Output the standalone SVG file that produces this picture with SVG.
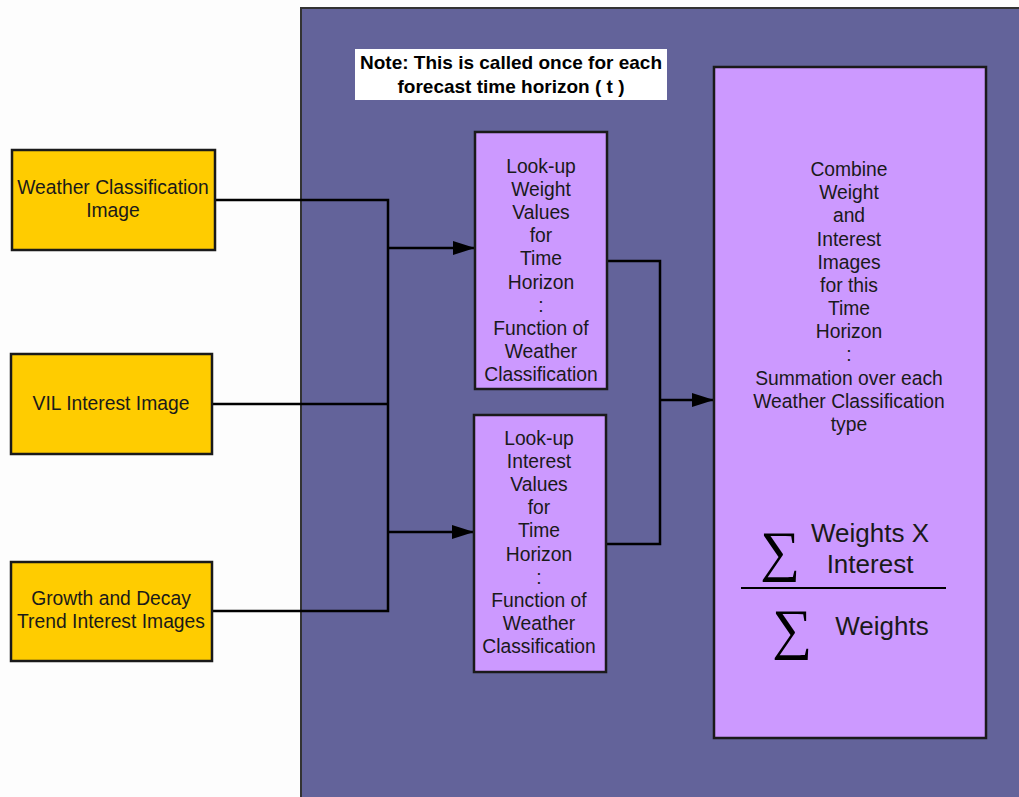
<svg xmlns="http://www.w3.org/2000/svg" width="1019" height="797" viewBox="0 0 1019 797">
  <style>
    .lbl { font-family: "Liberation Sans", Arial, sans-serif; font-size: 19.3px; fill: #1a1a1a; text-anchor: middle; }
    .note { font-family: "Liberation Sans", Arial, sans-serif; font-size: 19px; font-weight: bold; fill: #000; text-anchor: middle; }
    .input { fill: #ffcc00; stroke: #1a1a1a; stroke-width: 2.5; }
    .proc { fill: #cc99ff; stroke: #1a1a1a; stroke-width: 2.5; }
    .wire { fill: none; stroke: #000; stroke-width: 2.5; }
    .sigma { font-family: "Liberation Serif", "Times New Roman", serif; font-size: 56px; fill: #000; text-anchor: middle; }
    .frac { font-family: "Liberation Sans", Arial, sans-serif; font-size: 26px; fill: #1a1a1a; text-anchor: middle; }
  </style>
  <defs>
    <marker id="arrow" markerWidth="22" markerHeight="14" refX="22" refY="7" orient="auto" markerUnits="userSpaceOnUse" viewBox="0 0 22 14">
      <path d="M0,0 L22,7 L0,14 Z" fill="#000"/>
    </marker>
  </defs>

  <rect x="0" y="0" width="1019" height="797" fill="#fdfdfd"/>

  <!-- process region -->
  <g id="panel">
    <rect x="301" y="8" width="730" height="800" fill="#63639a" stroke="#333" stroke-width="2"/>
  </g>

  <g id="note">
    <rect x="355" y="49" width="312" height="51" fill="#fff"/>
    <text class="note" x="511" y="69">Note: This is called once for each</text>
    <text class="note" x="511" y="93">forecast time horizon ( t )</text>
  </g>

  <!-- connectors -->
  <g id="connectors">
    <path class="wire" d="M215,200 H388 V611 H212"/>
    <path class="wire" d="M212,404 H388"/>
    <path class="wire" d="M388,248 H475" marker-end="url(#arrow)"/>
    <path class="wire" d="M388,532 H474" marker-end="url(#arrow)"/>
    <path class="wire" d="M607,261 H660 V544 H606"/>
    <path class="wire" d="M660,400 H714" marker-end="url(#arrow)"/>
  </g>

  <g id="weather-classification">
    <rect class="input" x="12" y="150" width="203" height="100"/>
    <text class="lbl" x="113" y="194">Weather Classification</text>
    <text class="lbl" x="113" y="217">Image</text>
  </g>

  <g id="vil-interest">
    <rect class="input" x="11" y="354" width="201" height="100"/>
    <text class="lbl" x="111" y="410">VIL Interest Image</text>
  </g>

  <g id="growth-decay">
    <rect class="input" x="11" y="562" width="201" height="99"/>
    <text class="lbl" x="111" y="605">Growth and Decay</text>
    <text class="lbl" x="111" y="628">Trend Interest Images</text>
  </g>

  <g id="lookup-weight">
    <rect class="proc" x="475" y="132" width="132" height="257"/>
    <text class="lbl" x="541" y="173">Look-up</text>
    <text class="lbl" x="541" y="196">Weight</text>
    <text class="lbl" x="541" y="219">Values</text>
    <text class="lbl" x="541" y="242">for</text>
    <text class="lbl" x="541" y="265">Time</text>
    <text class="lbl" x="541" y="289">Horizon</text>
    <text class="lbl" x="541" y="312">:</text>
    <text class="lbl" x="541" y="335">Function of</text>
    <text class="lbl" x="541" y="358">Weather</text>
    <text class="lbl" x="541" y="381">Classification</text>
  </g>

  <g id="lookup-interest">
    <rect class="proc" x="474" y="415" width="132" height="257"/>
    <text class="lbl" x="539" y="445">Look-up</text>
    <text class="lbl" x="539" y="468">Interest</text>
    <text class="lbl" x="539" y="491">Values</text>
    <text class="lbl" x="539" y="514">for</text>
    <text class="lbl" x="539" y="537">Time</text>
    <text class="lbl" x="539" y="561">Horizon</text>
    <text class="lbl" x="539" y="584">:</text>
    <text class="lbl" x="539" y="607">Function of</text>
    <text class="lbl" x="539" y="630">Weather</text>
    <text class="lbl" x="539" y="653">Classification</text>
  </g>

  <g id="combine">
    <rect class="proc" x="714" y="67" width="272" height="671"/>
    <text class="lbl" x="849" y="176">Combine</text>
    <text class="lbl" x="849" y="199">Weight</text>
    <text class="lbl" x="849" y="222">and</text>
    <text class="lbl" x="849" y="246">Interest</text>
    <text class="lbl" x="849" y="269">Images</text>
    <text class="lbl" x="849" y="292">for this</text>
    <text class="lbl" x="849" y="315">Time</text>
    <text class="lbl" x="849" y="338">Horizon</text>
    <text class="lbl" x="849" y="361">:</text>
    <text class="lbl" x="849" y="385">Summation over each</text>
    <text class="lbl" x="849" y="408">Weather Classification</text>
    <text class="lbl" x="849" y="431">type</text>

    <text class="sigma" x="780" y="570">∑</text>
    <text class="frac" x="870" y="542">Weights X</text>
    <text class="frac" x="870" y="573">Interest</text>
    <line x1="741" y1="588" x2="946" y2="588" stroke="#000" stroke-width="2"/>
    <text class="sigma" x="792" y="648">∑</text>
    <text class="frac" x="882" y="635">Weights</text>
  </g>
</svg>
